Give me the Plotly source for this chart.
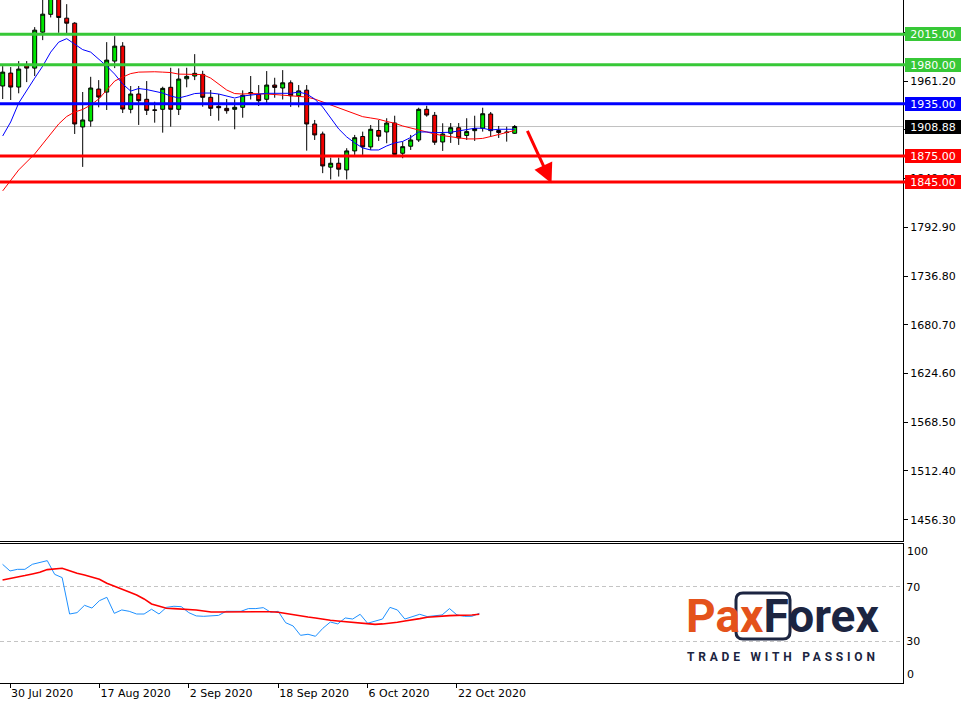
import plotly.graph_objects as go

# ---------------- data ----------------
dates = [
    "2020-07-29", "2020-07-30", "2020-07-31",
    "2020-08-03", "2020-08-04", "2020-08-05", "2020-08-06", "2020-08-07",
    "2020-08-10", "2020-08-11", "2020-08-12", "2020-08-13", "2020-08-14",
    "2020-08-17", "2020-08-18", "2020-08-19", "2020-08-20", "2020-08-21",
    "2020-08-24", "2020-08-25", "2020-08-26", "2020-08-27", "2020-08-28",
    "2020-08-31", "2020-09-01", "2020-09-02", "2020-09-03", "2020-09-04",
    "2020-09-07", "2020-09-08", "2020-09-09", "2020-09-10", "2020-09-11",
    "2020-09-14", "2020-09-15", "2020-09-16", "2020-09-17", "2020-09-18",
    "2020-09-21", "2020-09-22", "2020-09-23", "2020-09-24", "2020-09-25",
    "2020-09-28", "2020-09-29", "2020-09-30", "2020-10-01", "2020-10-02",
    "2020-10-05", "2020-10-06", "2020-10-07", "2020-10-08", "2020-10-09",
    "2020-10-12", "2020-10-13", "2020-10-14", "2020-10-15", "2020-10-16",
    "2020-10-19", "2020-10-20", "2020-10-21", "2020-10-22", "2020-10-23",
    "2020-10-26", "2020-10-27",
]

open_ = [1955.5, 1970.4, 1954.3, 1979.6, 1976.1, 2017.5, 2038.0, 2063.0, 2033.6, 2027.8,
         1908.4, 1915.2, 1952.0, 1948.5, 1984.2, 2001.4, 1928.7, 1946.3, 1940.2, 1928.0,
         1928.7, 1954.0, 1928.7, 1963.8, 1967.0, 1968.9, 1942.5, 1932.1, 1929.8, 1928.7,
         1931.0, 1948.0, 1945.9, 1940.2, 1956.6, 1953.2, 1959.2, 1944.3, 1950.7, 1911.8,
         1900.3, 1862.1, 1866.6, 1858.9, 1880.8, 1897.4, 1885.4, 1904.3, 1902.6, 1912.9,
         1878.1, 1886.2, 1893.4, 1928.7, 1921.8, 1891.1, 1901.1, 1907.5, 1898.6, 1904.1,
         1906.9, 1923.3, 1904.3, 1902.0, 1901.1]
high_ = [1978.4, 1977.3, 1984.2, 1984.2, 2023.3, 2055.5, 2069.0, 2075.0, 2049.7, 2029.0,
         1948.6, 1966.1, 1962.3, 2006.0, 2012.9, 2006.0, 1955.5, 1955.5, 1961.2, 1937.4,
         1954.7, 1976.5, 1975.8, 1976.5, 1992.2, 1973.0, 1950.9, 1946.3, 1940.5, 1940.2,
         1950.5, 1967.0, 1956.6, 1972.7, 1965.0, 1973.8, 1962.0, 1956.6, 1956.6, 1916.4,
         1903.0, 1873.1, 1873.1, 1883.9, 1899.2, 1903.0, 1910.6, 1916.4, 1918.4, 1921.3,
         1891.5, 1899.2, 1930.5, 1932.8, 1925.6, 1912.6, 1912.9, 1912.9, 1918.4, 1921.3,
         1930.5, 1925.6, 1909.5, 1908.7, 1910.6]
low_ = [1940.5, 1939.4, 1947.1, 1960.0, 1967.0, 2008.3, 2034.4, 2016.7, 2016.4, 1900.3,
        1862.4, 1908.7, 1931.0, 1927.9, 1976.1, 1924.4, 1924.1, 1910.7, 1922.1, 1913.3,
        1901.8, 1908.7, 1922.1, 1954.0, 1962.3, 1931.7, 1921.0, 1915.6, 1923.6, 1905.7,
        1919.0, 1940.0, 1932.5, 1935.6, 1942.0, 1940.0, 1931.5, 1931.0, 1881.1, 1893.4,
        1855.2, 1848.0, 1851.3, 1848.0, 1876.2, 1876.2, 1881.9, 1892.3, 1889.6, 1875.0,
        1872.4, 1881.9, 1891.1, 1920.2, 1887.7, 1880.8, 1890.0, 1887.7, 1893.4, 1892.3,
        1903.0, 1896.9, 1895.7, 1891.5, 1900.3]
close_ = [1971.5, 1954.3, 1975.0, 1976.1, 2019.8, 2038.2, 2063.0, 2034.4, 2027.8, 1911.8,
          1916.4, 1953.2, 1942.8, 1985.3, 2001.4, 1929.0, 1946.3, 1938.6, 1927.5, 1927.6,
          1952.8, 1928.7, 1963.5, 1966.6, 1970.1, 1942.5, 1929.8, 1930.5, 1927.1, 1931.0,
          1944.8, 1946.5, 1938.6, 1956.6, 1953.9, 1959.2, 1944.3, 1949.9, 1911.8, 1899.2,
          1863.5, 1866.6, 1859.8, 1880.8, 1896.0, 1885.4, 1905.7, 1897.7, 1912.9, 1876.8,
          1885.7, 1893.4, 1928.7, 1922.1, 1890.8, 1900.3, 1907.5, 1895.7, 1903.0, 1906.6,
          1923.6, 1904.1, 1902.0, 1902.3, 1908.88]

ma_fast = [1898.0, 1914.1, 1935.9, 1950.9, 1964.6, 1978.4, 1994.5, 2006.0, 2010.0, 2003.7,
           1997.4, 1994.5, 1986.5, 1978.4, 1969.2, 1957.8, 1949.7, 1952.6, 1951.4, 1949.1,
           1947.4, 1944.0, 1941.7, 1944.0, 1946.8, 1947.4, 1947.4, 1946.3, 1944.0, 1941.7,
           1944.0, 1945.1, 1946.3, 1947.1, 1947.1, 1947.1, 1947.1, 1948.5, 1946.3, 1940.5,
           1931.3, 1918.7, 1906.1, 1896.9, 1890.0, 1884.2, 1881.9, 1881.9, 1886.5, 1890.0,
           1891.7, 1896.3, 1902.6, 1902.6, 1901.8, 1902.0, 1902.3, 1903.8, 1905.5, 1906.9,
           1906.9, 1904.9, 1905.7, 1905.7, 1905.7]
ma_slow = [1834.8, 1847.5, 1858.9, 1868.1, 1877.3, 1888.8, 1900.3, 1911.8, 1920.4, 1925.6,
           1928.5, 1933.6, 1940.5, 1950.9, 1961.2, 1965.8, 1969.8, 1971.5, 1971.9, 1971.9,
           1971.5, 1971.0, 1969.2, 1969.2, 1969.2, 1968.7, 1964.6, 1957.8, 1950.9, 1946.8,
           1946.3, 1946.8, 1946.8, 1946.3, 1945.7, 1945.1, 1944.0, 1943.4, 1942.8, 1940.5,
           1937.1, 1934.2, 1930.2, 1926.7, 1923.3, 1920.2, 1918.7, 1917.2, 1914.7, 1912.6,
           1909.5, 1907.2, 1904.9, 1902.0, 1900.3, 1898.4, 1896.9, 1895.4, 1894.6, 1894.6,
           1895.2, 1897.4, 1899.8, 1901.5, 1904.3]

osc_main = [86.5, 81.6, 82.8, 82.8, 86.5, 88.0, 89.2, 79.1, 76.7, 49.9,
            50.9, 56.3, 54.3, 59.7, 62.2, 50.4, 52.9, 51.9, 49.9, 49.9,
            53.4, 49.9, 54.8, 55.6, 55.3, 50.9, 48.5, 48.2, 48.5, 48.9,
            51.9, 51.9, 51.9, 53.9, 53.9, 54.6, 51.2, 51.9, 43.5, 41.1,
            34.2, 35.0, 33.5, 39.4, 44.0, 42.6, 47.0, 46.2, 49.7, 43.1,
            44.5, 46.2, 54.8, 52.9, 46.2, 48.2, 49.7, 48.0, 48.5, 49.2,
            53.9, 49.2, 48.2, 48.2, 50.4]
osc_signal = [75.0, 75.9, 76.9, 78.2, 79.4, 80.6, 82.6, 83.3, 83.6, 81.8,
              79.9, 78.6, 77.2, 75.5, 72.5, 70.5, 68.6, 66.1, 63.9, 61.0,
              57.3, 55.8, 54.1, 53.9, 53.6, 53.4, 52.9, 52.1, 51.4, 51.4,
              51.4, 51.4, 51.6, 51.9, 51.9, 51.9, 51.6, 51.2, 50.2, 49.2,
              48.5, 47.7, 47.0, 46.0, 45.3, 44.8, 44.3, 44.0, 43.8, 43.1,
              42.3, 42.6, 43.1, 43.8, 44.8, 45.5, 46.5, 47.5, 48.0, 48.5,
              48.7, 48.9, 48.9, 49.2, 49.7]

level_values = [2015.00, 1980.00, 1935.00, 1875.00, 1845.00]
level_colors = ["#37C837", "#37C837", "#0000FF", "#FF0000", "#FF0000"]
current_price = 1908.88

price_ticks = [1456.30, 1512.40, 1568.50, 1624.60, 1680.70, 1736.80,
               1792.90, 1849.00, 1905.10, 1961.20, 2017.30]
osc_ticks = [30, 70]
osc_edge_labels = [100, 0]

xtick_dates = ["2020-07-30", "2020-08-17", "2020-09-02", "2020-09-18", "2020-10-06", "2020-10-22"]
xtick_labels = ["30 Jul 2020", "17 Aug 2020", "2 Sep 2020", "18 Sep 2020", "6 Oct 2020", "22 Oct 2020"]

arrow_tail = (65.5, 1905.7)   # (bar index, price)
arrow_tip = (68.6, 1843.5)

# ---------------- figure ----------------
x_idx = list(range(len(dates)))
AX_FONT = dict(family="DejaVu Sans", size=11, color="black")

fig = go.Figure()
fig.add_trace(go.Candlestick(
    x=x_idx, open=open_, high=high_, low=low_, close=close_,
    increasing=dict(line=dict(color="black", width=1), fillcolor="#00E600"),
    decreasing=dict(line=dict(color="black", width=1), fillcolor="#F00000"),
    whiskerwidth=0, xaxis="x", yaxis="y", showlegend=False, hoverinfo="skip"))
fig.add_trace(go.Scatter(x=x_idx, y=ma_slow, mode="lines", line=dict(color="#FF0000", width=1),
                         xaxis="x", yaxis="y", hoverinfo="skip"))
fig.add_trace(go.Scatter(x=x_idx, y=ma_fast, mode="lines", line=dict(color="#0000FF", width=1),
                         xaxis="x", yaxis="y", hoverinfo="skip"))

fig.add_trace(go.Scatter(x=x_idx, y=osc_main, mode="lines", line=dict(color="#1E90FF", width=1),
                         xaxis="x2", yaxis="y2", hoverinfo="skip"))
fig.add_trace(go.Scatter(x=x_idx, y=osc_signal, mode="lines", line=dict(color="#FF0000", width=1.6),
                         xaxis="x2", yaxis="y2", hoverinfo="skip"))

# level lines
fig.add_shape(type="line", xref="x domain", x0=0, x1=1, yref="y", y0=current_price, y1=current_price,
              line=dict(color="#C0C0C0", width=1), layer="below")
for lvl, col in zip(level_values, level_colors):
    fig.add_shape(type="line", xref="x domain", x0=0, x1=1.003, yref="y", y0=lvl, y1=lvl,
                  line=dict(color=col, width=3), layer="above")
    fig.add_annotation(xref="paper", x=1, xanchor="left", xshift=2, yref="y", y=lvl,
                       text=f"{lvl:.2f}", showarrow=False, bgcolor=col, borderpad=1, borderwidth=0,
                       width=54, height=12, font=dict(family="DejaVu Sans", size=11, color="white"))
fig.add_annotation(xref="paper", x=1, xanchor="left", xshift=2, yref="y", y=current_price,
                   text=f"{current_price:.2f}", showarrow=False, bgcolor="black", borderpad=1,
                   borderwidth=0, width=54, height=12,
                   font=dict(family="DejaVu Sans", size=11, color="white"))

# arrow
fig.add_annotation(xref="x", yref="y", x=arrow_tip[0], y=arrow_tip[1],
                   axref="x", ayref="y", ax=arrow_tail[0], ay=arrow_tail[1],
                   text="", showarrow=True, arrowhead=2, arrowsize=1.3, arrowwidth=3,
                   arrowcolor="#FF0000", standoff=0, startstandoff=0)

# oscillator edge labels
for v, sh in zip(osc_edge_labels, [-6, 7]):
    fig.add_annotation(xref="paper", x=1, xanchor="left", xshift=2, yref="y2", y=v, yshift=sh,
                       text=str(v), showarrow=False, font=AX_FONT)

# logo
W, H = 903.0, 683.0
def px(xp):
    return xp / W
def py(yp):
    return (H - yp) / H

fig.add_annotation(xref="paper", yref="paper", x=px(684), y=py(616), xanchor="left", yanchor="middle",
                   text="<span style='color:#E4521B'>Pax</span><span style='color:#1C2541'>Forex</span>",
                   showarrow=False, font=dict(family="Roboto", size=46, weight=700))
fig.add_annotation(xref="paper", yref="paper", x=px(685), y=py(657), xanchor="left", yanchor="middle",
                   text="<span style='letter-spacing:3.8px'>TRADE WITH PASSION</span>",
                   showarrow=False, font=dict(family="Roboto", size=12, weight=700, color="#1C2541"))
x0, x1, y0, y1, r = 736, 790, 593, 639, 7
path = (f"M {px(x0 + r)},{py(y0)} L {px(x1 - r)},{py(y0)} Q {px(x1)},{py(y0)} {px(x1)},{py(y0 + r)} "
        f"L {px(x1)},{py(y1 - r)} Q {px(x1)},{py(y1)} {px(x1 - r)},{py(y1)} "
        f"L {px(x0 + r)},{py(y1)} Q {px(x0)},{py(y1)} {px(x0)},{py(y1 - r)} "
        f"L {px(x0)},{py(y0 + r)} Q {px(x0)},{py(y0)} {px(x0 + r)},{py(y0)} Z")
fig.add_shape(type="path", xref="paper", yref="paper", path=path,
              line=dict(color="#1C2541", width=3), layer="above")

xtick_vals = [dates.index(d) for d in xtick_dates]

fig.update_layout(
    width=965, height=702, margin=dict(l=0, r=62, t=0, b=19),
    paper_bgcolor="white", plot_bgcolor="white", showlegend=False, hovermode=False,
    xaxis=dict(domain=[0, 1], range=[-0.3375, 112.54], anchor="y", showticklabels=False, ticks="",
               showgrid=False, zeroline=False, showline=True, linecolor="black", linewidth=1,
               rangeslider=dict(visible=False), fixedrange=True),
    yaxis=dict(domain=[0.2079, 1], range=[1431.8, 2054.5], anchor="x", side="right",
               tickvals=price_ticks, ticktext=[f"{t:.2f}" for t in price_ticks],
               ticks="outside", ticklen=4, tickcolor="black", showline=True, linecolor="black",
               showgrid=False, zeroline=False, tickfont=AX_FONT),
    xaxis2=dict(domain=[0, 1], range=[-0.342, 120.87], anchor="y2",
                tickvals=xtick_vals, ticktext=xtick_labels, ticks="outside", ticklen=4,
                tickcolor="black", ticklabelposition="outside right", showline=True, mirror=True,
                linecolor="black", showgrid=False, zeroline=False, tickfont=AX_FONT),
    yaxis2=dict(domain=[0, 0.2042], range=[-0.9, 101.8], anchor="x2", side="right",
                tickvals=osc_ticks, ticktext=[str(t) for t in osc_ticks], ticks="",
                showline=True, linecolor="black", showgrid=True, gridcolor="#C4C4C4",
                griddash="4px,3px", gridwidth=1, zeroline=False, tickfont=AX_FONT),
)

fig.write_html("out.html", config={"displayModeBar": False},
               post_script="document.body.style.margin='0';document.body.style.padding='0';")
